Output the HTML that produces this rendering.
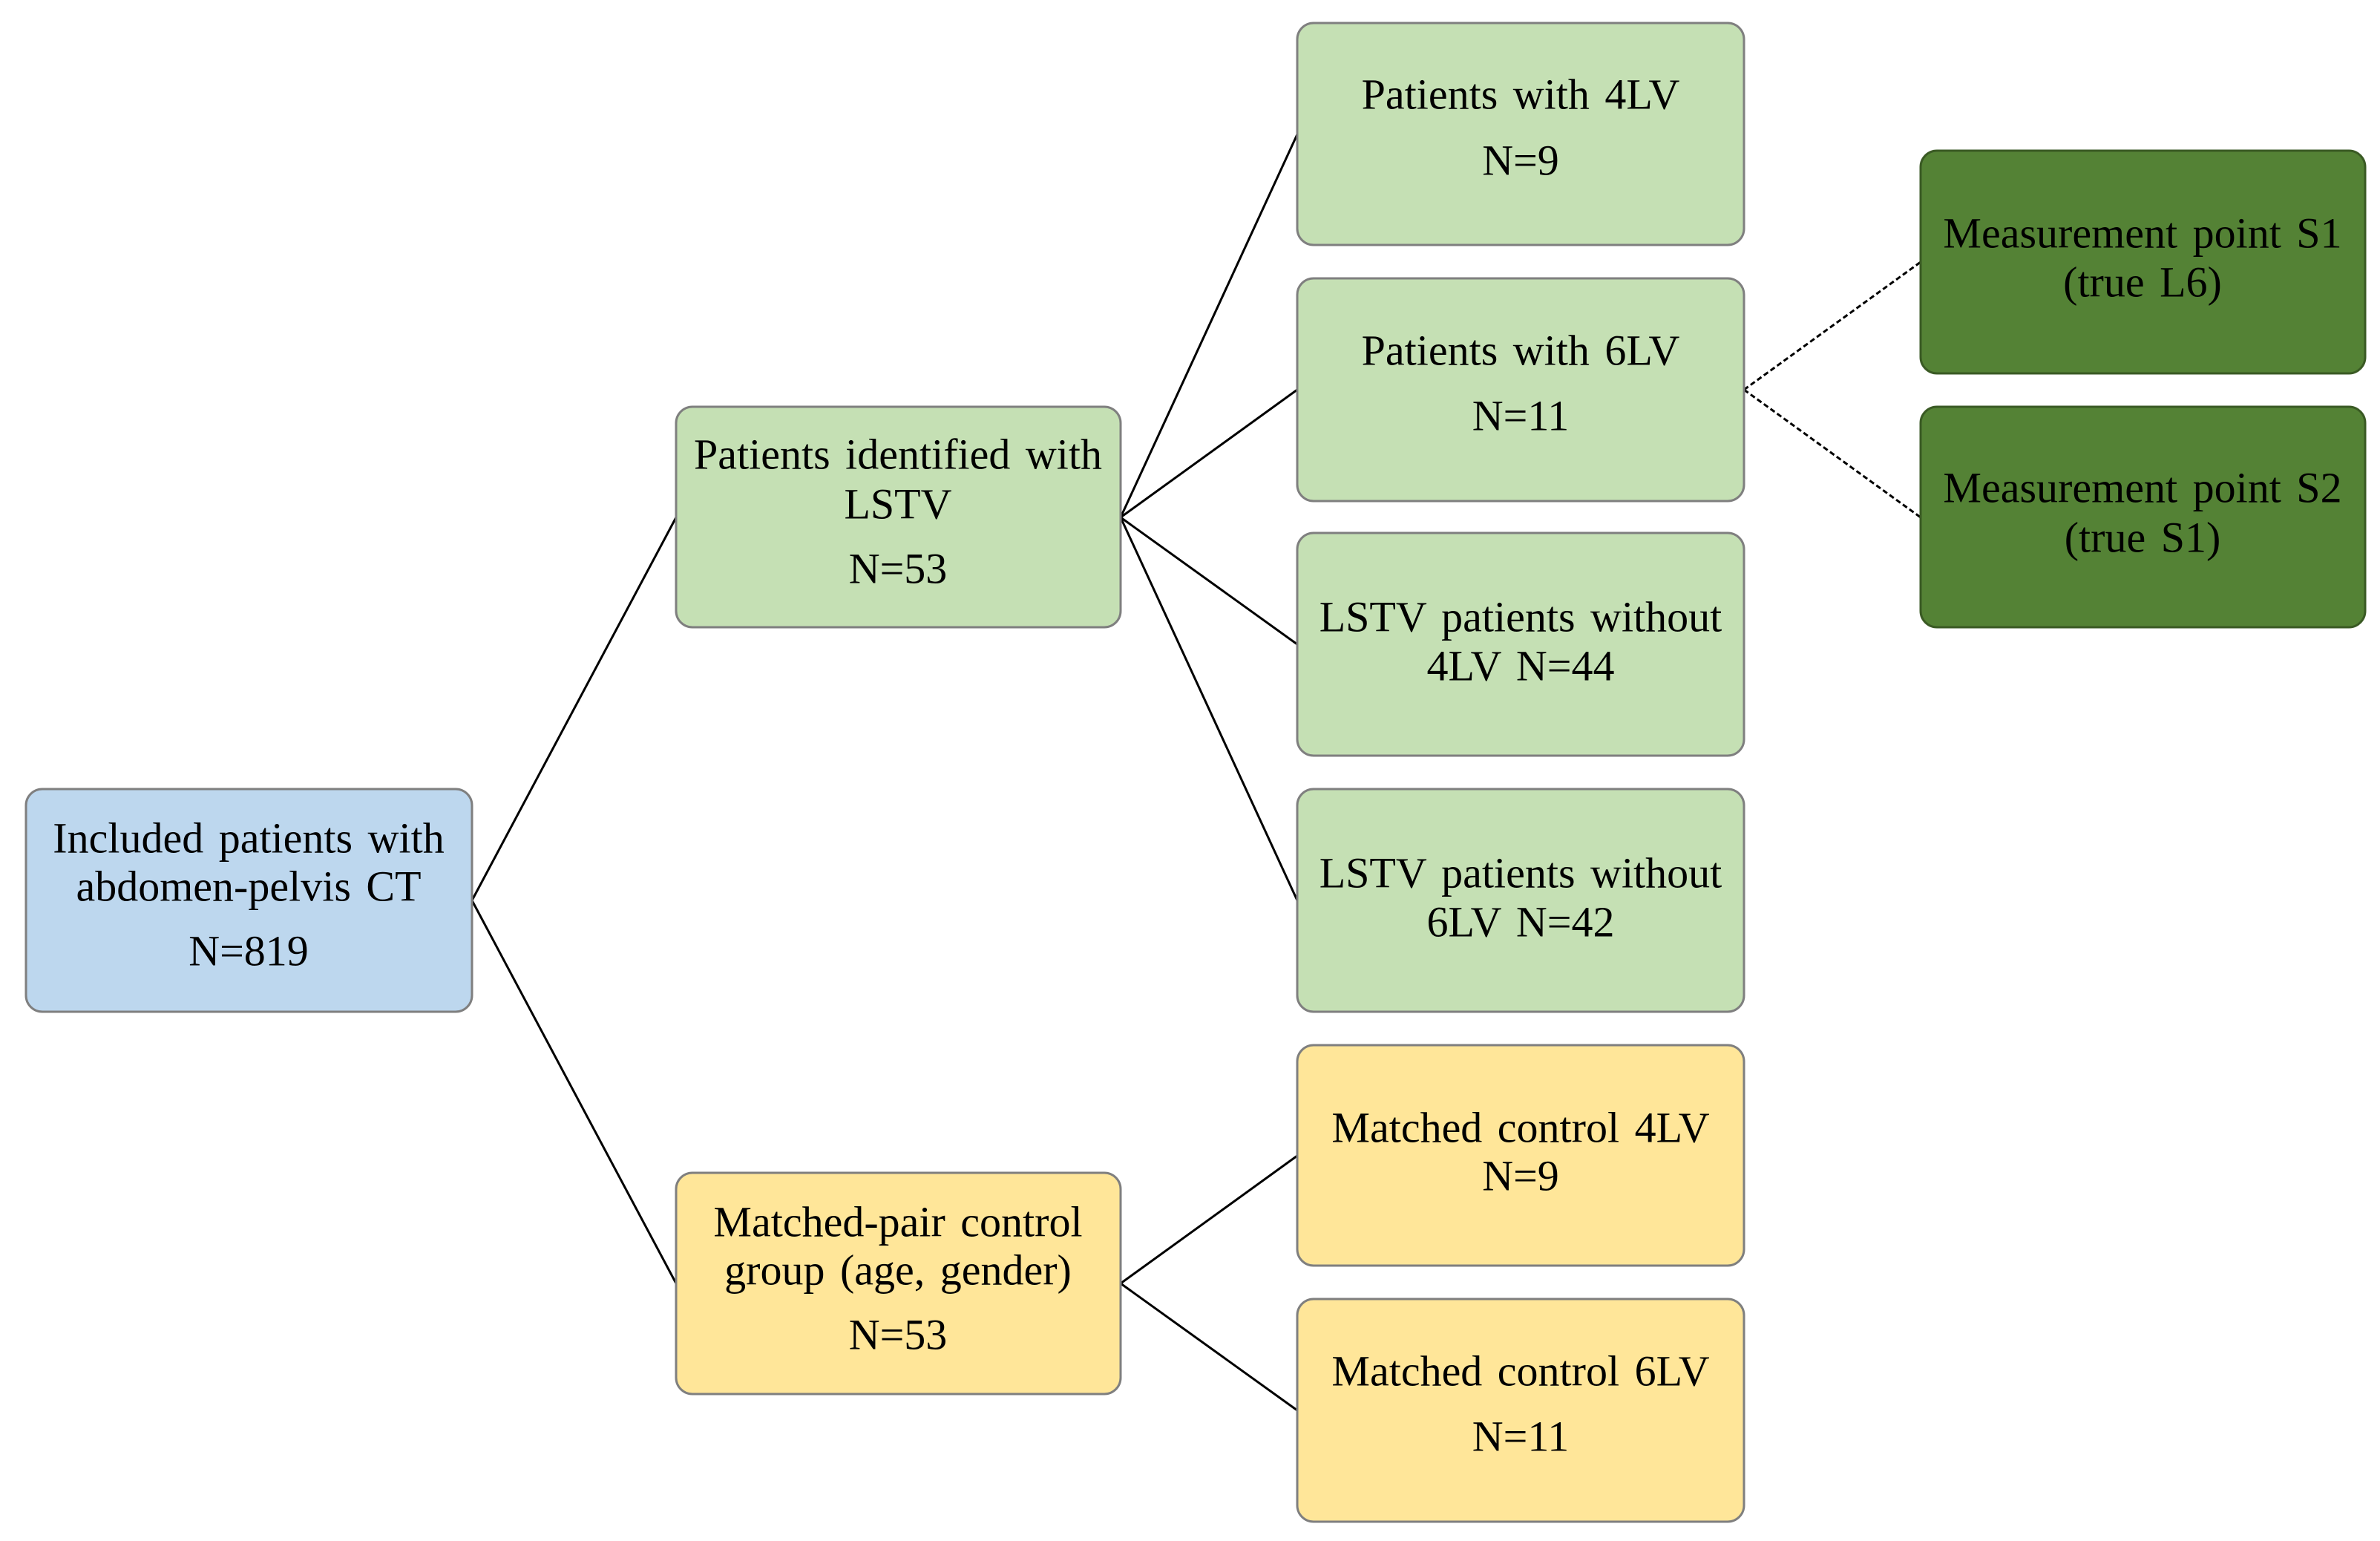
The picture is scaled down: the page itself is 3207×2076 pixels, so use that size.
<!DOCTYPE html>
<html><head><meta charset="utf-8"><style>
html,body{margin:0;padding:0;background:#fff;}
svg{display:block;}
text{font-family:"Liberation Serif",serif;font-size:58px;fill:#000;text-anchor:middle;dominant-baseline:middle;word-spacing:6px;}
</style></head><body>
<svg width="3207" height="2076" viewBox="0 0 3207 2076" xmlns="http://www.w3.org/2000/svg">
<g stroke="#000" stroke-width="3" fill="none">
<line x1="636" y1="1213" x2="911" y2="697"/>
<line x1="636" y1="1213" x2="911" y2="1729"/>
<line x1="1510" y1="697" x2="1748" y2="181"/>
<line x1="1510" y1="697" x2="1748" y2="525"/>
<line x1="1510" y1="697" x2="1748" y2="868"/>
<line x1="1510" y1="697" x2="1748" y2="1213"/>
<line x1="1510" y1="1729" x2="1748" y2="1557"/>
<line x1="1510" y1="1729" x2="1748" y2="1900"/>
<line x1="2350" y1="525" x2="2588" y2="353" stroke-dasharray="7,4"/>
<line x1="2350" y1="525" x2="2588" y2="697" stroke-dasharray="7,4"/>
</g>
<g stroke="#7f7f7f" stroke-width="3">
<rect x="35" y="1063" width="601" height="300" rx="22" fill="#bdd7ee"/>
<rect x="911" y="548" width="599" height="297" rx="22" fill="#c5e0b4"/>
<rect x="911" y="1580" width="599" height="298" rx="22" fill="#ffe699"/>
<rect x="1748" y="31" width="602" height="299" rx="22" fill="#c5e0b4"/>
<rect x="1748" y="375" width="602" height="300" rx="22" fill="#c5e0b4"/>
<rect x="1748" y="718" width="602" height="300" rx="22" fill="#c5e0b4"/>
<rect x="1748" y="1063" width="602" height="300" rx="22" fill="#c5e0b4"/>
<rect x="1748" y="1408" width="602" height="297" rx="22" fill="#ffe699"/>
<rect x="1748" y="1750" width="602" height="300" rx="22" fill="#ffe699"/>
<rect x="2588" y="203" width="599" height="300" rx="22" fill="#548235" stroke="#3a5a24"/>
<rect x="2588" y="548" width="599" height="297" rx="22" fill="#548235" stroke="#3a5a24"/>
</g>
<text x="335" y="1135">Included patients with</text>
<text x="335" y="1200">abdomen-pelvis CT</text>
<text x="335" y="1287">N=819</text>
<text x="1210" y="618">Patients identified with</text>
<text x="1210" y="685">LSTV</text>
<text x="1210" y="772">N=53</text>
<text x="1210" y="1652">Matched-pair control</text>
<text x="1210" y="1717">group (age, gender)</text>
<text x="1210" y="1804">N=53</text>
<text x="2049" y="133">Patients with 4LV</text>
<text x="2049" y="222">N=9</text>
<text x="2049" y="478">Patients with 6LV</text>
<text x="2049" y="566">N=11</text>
<text x="2049" y="837">LSTV patients without</text>
<text x="2049" y="903">4LV N=44</text>
<text x="2049" y="1182">LSTV patients without</text>
<text x="2049" y="1248">6LV N=42</text>
<text x="2049" y="1525">Matched control 4LV</text>
<text x="2049" y="1590">N=9</text>
<text x="2049" y="1853">Matched control 6LV</text>
<text x="2049" y="1941">N=11</text>
<text x="2887" y="320">Measurement point S1</text>
<text x="2887" y="386">(true L6)</text>
<text x="2887" y="663">Measurement point S2</text>
<text x="2887" y="730">(true S1)</text>
</svg>
</body></html>
